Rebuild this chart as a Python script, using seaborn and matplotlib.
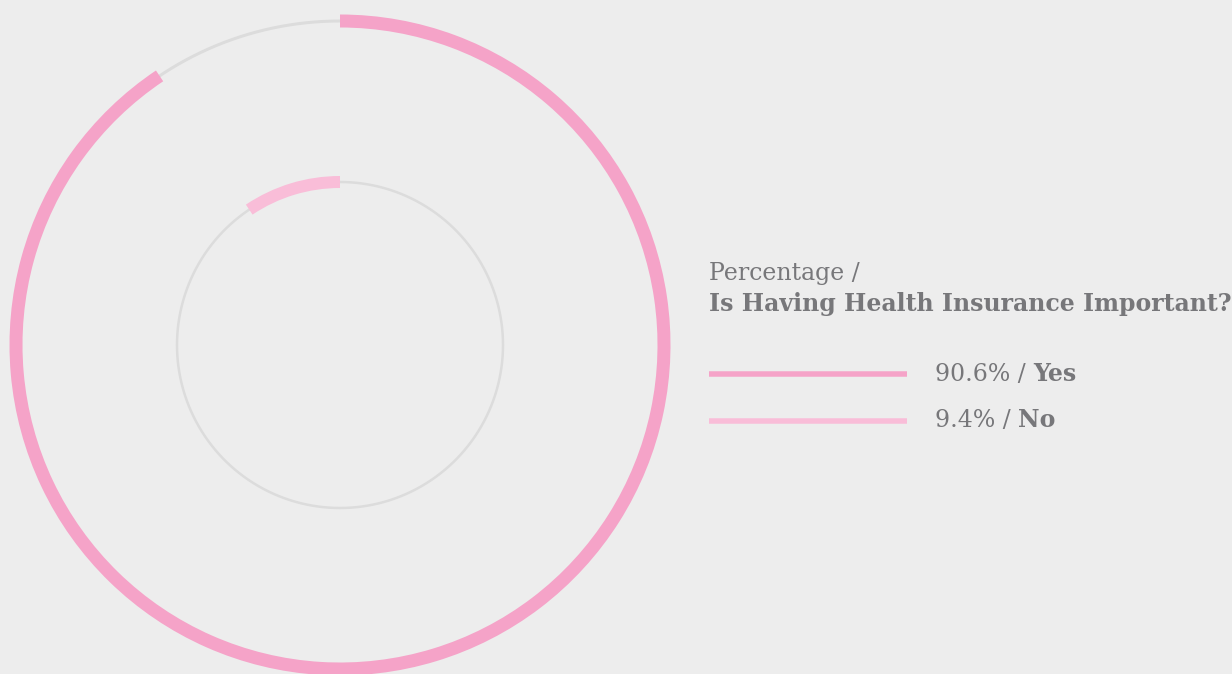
import numpy as np
import matplotlib
matplotlib.use("Agg")
import matplotlib.pyplot as plt
from matplotlib.lines import Line2D
import seaborn as sns

# Survey answers
categories = ["Yes", "No"]
percentages = [90.6, 9.4]
legend_title = "Percentage /"
question = "Is Having Health Insurance Important?"

BG = "#ededed"
TRACK = "#dcdcdc"
TEXT = "#77777a"
ring_colors = ["#f5a3c8", "#f9bdd8"]

sns.set_theme(style="white", rc={"axes.facecolor": BG, "figure.facecolor": BG})
plt.rcParams["font.family"] = ["DejaVu Serif"]

W, H, DPI = 1232, 674, 100
fig = plt.figure(figsize=(W / DPI, H / DPI), dpi=DPI)
fig.patch.set_facecolor(BG)

# Polar axes where one radial unit equals one pixel
cx, cy, R = 340, 345, 340
ax = fig.add_axes([(cx - R) / W, (H - cy - R) / H, 2 * R / W, 2 * R / H],
                  projection="polar")
ax.set_theta_zero_location("N")
ax.set_theta_direction(-1)
ax.set_rlim(0, R)
ax.set_axis_off()

radii = [324, 163]
thick = [13, 12]
track_px = [3, 2.5]

start = 0.0
theta_full = np.linspace(0, 2 * np.pi, 721)
for i, (cat, pct) in enumerate(zip(categories, percentages)):
    # thin background track
    ax.plot(theta_full, np.full_like(theta_full, radii[i]), color=TRACK,
            lw=track_px[i] * 72 / DPI, solid_capstyle="butt", zorder=1, clip_on=False)
    span = pct / 100 * 2 * np.pi
    ax.bar(start + span / 2, thick[i], width=span, bottom=radii[i] - thick[i] / 2,
           color=ring_colors[i], edgecolor="none", zorder=2, clip_on=False)
    start += span

# Legend block
def fx(x):
    return x / W

def fy(y):
    return 1 - y / H

fs = 17
fig.text(fx(709), fy(280), legend_title, fontsize=fs, color=TEXT, va="baseline")
fig.text(fx(709), fy(311.5), question, fontsize=fs, color=TEXT, va="baseline",
         fontweight="bold")

line_y = [373.5, 420.5]
base_y = [381, 427]
fig.canvas.draw()
renderer = fig.canvas.get_renderer()
for i, (cat, pct) in enumerate(zip(categories, percentages)):
    fig.add_artist(Line2D([fx(709), fx(907)], [fy(line_y[i])] * 2,
                          color=ring_colors[i], lw=5.5 * 72 / DPI,
                          solid_capstyle="butt"))
    t = fig.text(fx(935), fy(base_y[i]), f"{pct}% / ", fontsize=fs, color=TEXT,
                 va="baseline")
    bb = t.get_window_extent(renderer)
    fig.text(bb.x1 / W, fy(base_y[i]), cat, fontsize=fs, color=TEXT,
             va="baseline", fontweight="bold")

fig.savefig("out.png", dpi=DPI, facecolor=BG)
